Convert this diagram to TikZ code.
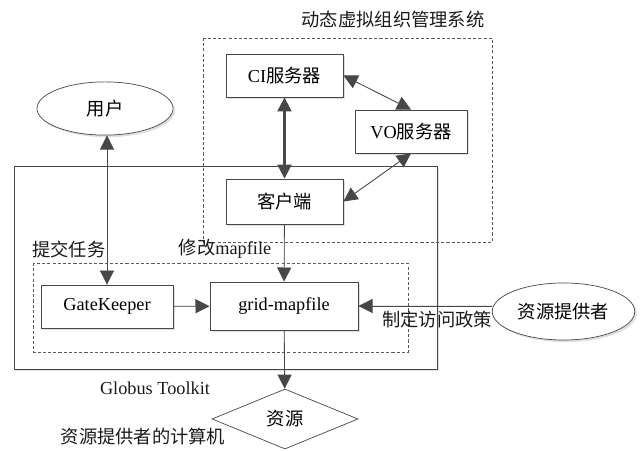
\documentclass[tikz,border=0pt]{standalone}
\usepackage{fontspec}
\setmainfont{Liberation Serif}
\newfontfamily\cjk{Noto Sans CJK SC}
\usetikzlibrary{arrows.meta, shapes.geometric, shadows}

\begin{document}
\begin{tikzpicture}[x=0.025cm, y=-0.025cm,
    font=\fontsize{13}{15}\selectfont,
    >={Triangle[length=10pt, width=10pt]},
    boxShadow/.style={drop shadow={shadow xshift=1.5pt, shadow yshift=-1.5pt, opacity=0.25, fill=gray}},
    box/.style={draw=lineColour, fill=white, line width=0.6pt, boxShadow, minimum height=1.075cm},
    oval/.style={ellipse, draw=lineColour, fill=white, line width=0.5pt, boxShadow},
    group/.style={draw=dashColour, line width=0.6pt, dash pattern=on 2.2pt off 1.5pt},
    link/.style={draw=lineColour, line width=0.6pt, fill=lineColour},
    label/.style={text=textColour}]
    % Define colours
    \definecolor{lineColour}{HTML}{474747}
    \definecolor{dashColour}{HTML}{5A5A5A}
    \definecolor{textColour}{HTML}{1A1A1A}

    % Fix the page size
    \useasboundingbox (0,0) rectangle (640,451);

    % Draw the Globus Toolkit frame
    \draw[draw=lineColour, fill=white, line width=0.6pt, boxShadow] (14,166) rectangle (437,369);
    \node[label] (globus) at (155,388) {Globus Toolkit};

    % Draw the VO management system frame
    \draw[group] (203,38) rectangle (492,242);
    \node[label] (vosys) at (393,20) {\cjk 动态虚拟组织管理系统};

    % Draw the local access control frame
    \draw[group] (33,263) rectangle (408,352);

    % Place the servers and the client
    \node[box, minimum width=2.925cm] (ci) at (284.5,75.5) {CI{\cjk 服务器}};
    \node[box, minimum width=2.8cm] (vo) at (411,131.5) {VO{\cjk 服务器}};
    \node[box, minimum width=2.925cm, minimum height=1.125cm] (client) at (284.5,201.5) {\cjk 客户端};

    % Place the Globus components
    \node[box, minimum width=3.3cm] (gate) at (107,306.5) {GateKeeper};
    \node[box, minimum width=3.7cm, minimum height=1.2cm] (grid) at (284,306) {grid-mapfile};

    % Place the user, the provider and the resource
    \node[oval, minimum width=3.4cm, minimum height=1.33cm] (user) at (105,108.5) {\cjk 用户};
    \node[oval, minimum width=3.325cm, minimum height=1.425cm] (provider) at (563.5,311.5) {\cjk 资源提供者};
    \node[diamond, draw=lineColour, fill=white, line width=0.5pt, aspect=2.43,
        minimum width=3.65cm, minimum height=1.5cm, inner sep=0pt] (res) at (285,419) {\cjk 资源};

    % Draw the connections
    \draw[link, line width=1.5pt, <->] (ci) -- (client);
    \draw[link, <->] (ci.east) -- (vo.north);
    \draw[link, <->] (vo.south) -- (client.east);
    \draw[link, <->] (gate.north |- user.south) -- (gate.north);
    \draw[link, ->] (client) -- (grid);
    \draw[link, ->] (gate) -- (grid);
    \draw[link, ->] (grid.east -| provider.west) -- (grid.east);
    \draw[link, ->] (grid) -- (res);

    % Label the connections
    \node[label] (submit) at (69,249) {\cjk 提交任务};
    \node[label] (modify) at (225,249) {{\cjk 修改}mapfile};
    \node[label] (policy) at (437,320) {\cjk 制定访问政策};
    \node[label] (host) at (143,437) {\cjk 资源提供者的计算机};

\end{tikzpicture}
\end{document}
